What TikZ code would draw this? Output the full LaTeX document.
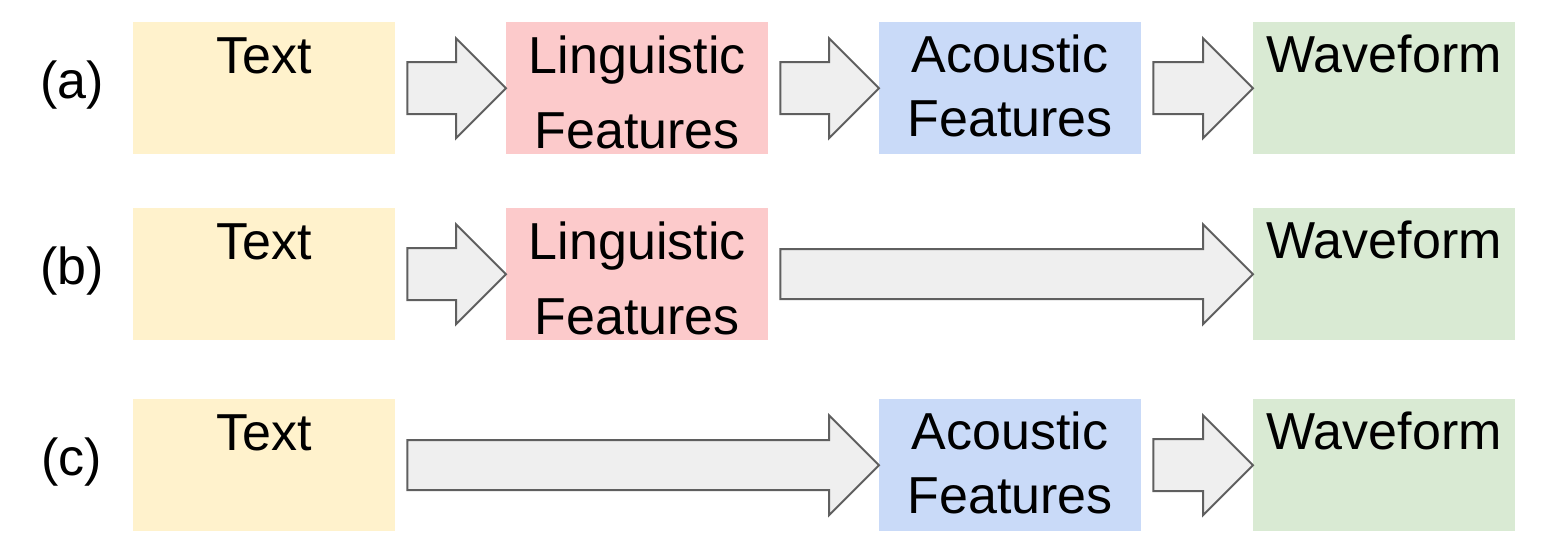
\documentclass[tikz,border=0pt]{standalone}
\usepackage{fontspec}
\setmainfont{Liberation Sans}
\usetikzlibrary{calc}
\definecolor{cText}{HTML}{FFF2CC}
\definecolor{cLing}{HTML}{FCCACB}
\definecolor{cAco}{HTML}{C9DAF8}
\definecolor{cWave}{HTML}{D9EAD3}
\definecolor{cArrFill}{HTML}{EFEFEF}
\definecolor{cArrDraw}{HTML}{5F5F5F}
\tikzset{
  box/.style={draw=none, minimum width=262pt, minimum height=132pt, inner sep=0pt, anchor=north west},
  lbl/.style={font=\fontsize{52}{75}\selectfont, inner sep=0pt, anchor=base, align=center},
  lbltight/.style={lbl, font=\fontsize{52}{64}\selectfont},
  fat/.style={fill=cArrFill, draw=cArrDraw, line width=2pt, line join=miter},
}
\newcommand\fatarrow[3]{%
  \path let \p1=(#1.east), \p2=(#2.west) in
    [fat] (\x1+12pt,\y2+#3) -- (\x2-50pt,\y2+#3) -- (\x2-50pt,\y2+50pt) -- (\x2,\y2)
    -- (\x2-50pt,\y2-50pt) -- (\x2-50pt,\y2-#3) -- (\x1+12pt,\y2-#3) -- cycle;}
\begin{document}
\begin{tikzpicture}[x=1pt,y=-1pt]
\useasboundingbox (0,0) rectangle (1558,552);
% row a
\node[box, fill=cText] (ta) at (133,22) {};
\node[box, fill=cLing] (la) at (506,22) {};
\node[box, fill=cAco]  (aa) at (879,22) {};
\node[box, fill=cWave] (wa) at (1253,22) {};
% row b
\node[box, fill=cText] (tb) at (133,208) {};
\node[box, fill=cLing] (lb) at (506,208) {};
\node[box, fill=cWave] (wb) at (1253,208) {};
% row c
\node[box, fill=cText] (tc) at (133,399) {};
\node[box, fill=cAco]  (ac) at (879,399) {};
\node[box, fill=cWave] (wc) at (1253,399) {};
% texts (base anchor = baseline of last line)
\foreach \b in {ta,tb,tc} \node[lbl] (\b-t) at ($(\b.north)+(0,51)$) {Text};
\foreach \b in {la,lb} \node[lbl] (\b-t) at ($(\b.north)+(0,126)$) {Linguistic\\Features};
\foreach \b in {aa,ac} \node[lbltight] (\b-t) at ($(\b.north)+(0,114)$) {Acoustic\\Features};
\foreach \b in {wa,wb,wc} \node[lbl] (\b-t) at ($(\b.north)+(0,50)$) {Waveform};
% row labels
\node[lbl] (rowa) at (72,98) {(a)};
\node[lbl] (rowb) at (72,284) {(b)};
\node[lbl] (rowc) at (72,475) {(c)};
% arrows
\fatarrow{ta}{la}{26pt}
\fatarrow{la}{aa}{26pt}
\fatarrow{aa}{wa}{26pt}
\fatarrow{tb}{lb}{26pt}
\fatarrow{lb}{wb}{25pt}
\fatarrow{tc}{ac}{25pt}
\fatarrow{ac}{wc}{26pt}
\end{tikzpicture}
\end{document}
